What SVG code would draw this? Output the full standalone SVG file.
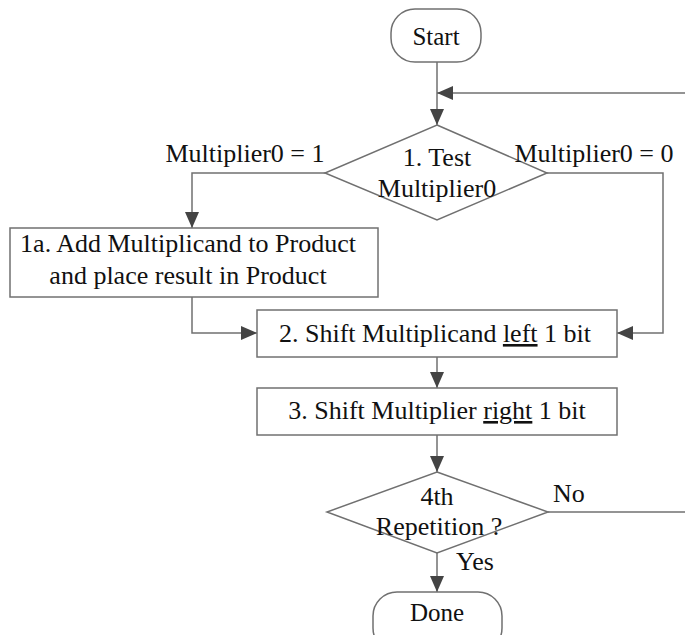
<svg xmlns="http://www.w3.org/2000/svg" width="685" height="635" viewBox="0 0 685 635">
  <style>
    .box { fill: #ffffff; stroke: #707070; stroke-width: 1.5; }
    .wire { fill: none; stroke: #707070; stroke-width: 1.5; }
    text { font-family: "Liberation Serif", "Times New Roman", serif; font-size: 26px; fill: #111111; }
    .c { text-anchor: middle; }
    .term { font-size: 25px; }
  </style>
  <defs>
    <marker id="arrow" markerUnits="userSpaceOnUse" markerWidth="16" markerHeight="14" refX="16" refY="7" orient="auto">
      <path d="M0,0 L16,7 L0,14 z" fill="#444444"/>
    </marker>
  </defs>
  <rect width="685" height="635" fill="#ffffff"/>

  <g id="connectors">
    <path class="wire" d="M437,62 V125" marker-end="url(#arrow)"/>
    <path class="wire" d="M685,93 H437" marker-end="url(#arrow)"/>
    <path class="wire" d="M325,173 H192 V228" marker-end="url(#arrow)"/>
    <path class="wire" d="M547,173 H663 V333 H617" marker-end="url(#arrow)"/>
    <path class="wire" d="M192,297 V333 H257" marker-end="url(#arrow)"/>
    <path class="wire" d="M437,357 V388" marker-end="url(#arrow)"/>
    <path class="wire" d="M437,435 V472" marker-end="url(#arrow)"/>
    <path class="wire" d="M548,512 H685"/>
    <path class="wire" d="M437,553 V592" marker-end="url(#arrow)"/>
  </g>

  <g id="start">
    <rect class="box" x="391" y="9" width="90" height="53" rx="24"/>
    <text class="c term" x="436" y="45">Start</text>
  </g>

  <g id="test">
    <polygon class="box" points="437,125 547,173 437,220 325,173" fill-opacity="0"/>
    <text class="c" x="437" y="166">1. Test</text>
    <text class="c" x="437" y="197">Multiplier0</text>
    <text class="c" x="245" y="162">Multiplier0 = 1</text>
    <text class="c" x="594" y="162">Multiplier0 = 0</text>
  </g>

  <g id="add">
    <rect class="box" x="10" y="228" width="368" height="69"/>
    <text class="c" x="188" y="252">1a. Add Multiplicand to Product</text>
    <text class="c" x="188" y="284">and place result in Product</text>
  </g>

  <g id="shift-left">
    <rect class="box" x="257" y="310" width="360" height="47"/>
    <text class="c" x="435" y="342">2. Shift Multiplicand <tspan text-decoration="underline">left</tspan> 1 bit</text>
  </g>

  <g id="shift-right">
    <rect class="box" x="257" y="388" width="360" height="47"/>
    <text class="c" x="437" y="419">3. Shift Multiplier <tspan text-decoration="underline">right</tspan> 1 bit</text>
  </g>

  <g id="repeat">
    <polygon class="box" points="437,472 548,512 437,553 327,512" fill-opacity="0"/>
    <text class="c" x="437" y="505">4th</text>
    <text class="c" x="439" y="535">Repetition ?</text>
    <text x="553" y="502">No</text>
    <text x="456" y="570">Yes</text>
  </g>

  <g id="done">
    <rect class="box" x="373" y="592" width="129" height="60" rx="24"/>
    <text class="c term" x="437" y="621">Done</text>
  </g>
</svg>
